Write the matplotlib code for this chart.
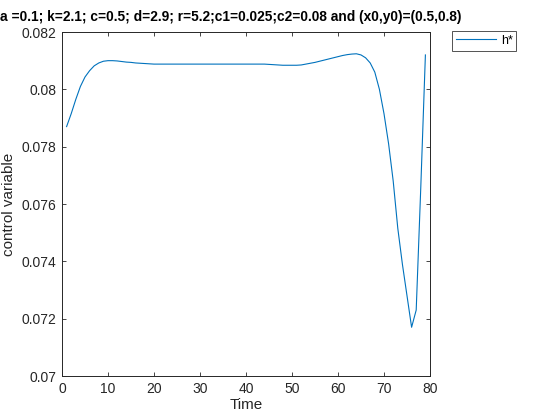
import numpy as np
import matplotlib
matplotlib.use("Agg")
import matplotlib.pyplot as plt

# ─── Data ─────────────────────────────────────────────────────────────────────
time = list(range(1, 80))
h_star = [
    0.07870, 0.07915, 0.07965, 0.08010, 0.08043, 0.08065, 0.08082, 0.08092,
    0.08098, 0.08100, 0.08100, 0.08099, 0.08097, 0.08095, 0.08094, 0.08092,
    0.08091, 0.08090, 0.08089, 0.08088, 0.08088, 0.08088, 0.08088, 0.08088,
    0.08088, 0.08088, 0.08088, 0.08088, 0.08088, 0.08088, 0.08088, 0.08088,
    0.08088, 0.08088, 0.08088, 0.08088, 0.08088, 0.08088, 0.08088, 0.08088,
    0.08088, 0.08088, 0.08088, 0.08088, 0.08087, 0.08086, 0.08085, 0.08084,
    0.08084, 0.08084, 0.08084, 0.08085, 0.08088, 0.08091, 0.08094, 0.08098,
    0.08102, 0.08106, 0.08110, 0.08114, 0.08118, 0.08121, 0.08123, 0.08124,
    0.08120, 0.08110, 0.08092, 0.08060, 0.08000, 0.07915, 0.07810, 0.07680,
    0.07515, 0.07390, 0.07280, 0.07170, 0.07230, 0.07660, 0.08120,
]

xticks = [0, 10, 20, 30, 40, 50, 60, 70, 80]
yticks = [0.07, 0.072, 0.074, 0.076, 0.078, 0.08, 0.082]
ytick_labels = ["0.07", "0.072", "0.074", "0.076", "0.078", "0.08", "0.082"]

title = "a =0.1; k=2.1; c=0.5; d=2.9; r=5.2;c1=0.025;c2=0.08 and (x0,y0)=(0.5,0.8)"

plt.rcParams["font.family"] = ["Liberation Sans", "DejaVu Sans"]

W, H = 560, 420
fig = plt.figure(figsize=(5.6, 4.2), dpi=100, facecolor="white")
ax = fig.add_axes([62 / W, 1 - 376 / H, (430 - 62) / W, (376 - 32) / H])

ax.plot(time, h_star, color="#0072BD", linewidth=0.8, label="h*")

ax.set_xlim(0, 80)
ax.set_ylim(0.07, 0.082)
ax.set_xticks(xticks)
ax.set_yticks(yticks)
ax.set_yticklabels(ytick_labels)
ax.tick_params(direction="in", top=True, right=True, length=3, width=0.6,
               labelsize=10, colors="#262626", pad=4)
for s in ax.spines.values():
    s.set_color("#262626")
    s.set_linewidth(0.7)

ax.set_xlabel("Time", fontsize=11, color="#262626", labelpad=2)
ax.set_ylabel("control variable", fontsize=11, color="#262626", labelpad=4)

# title runs up to the left edge of the figure, as in the reference
fig.text(0 / W, 1 - 21 / H, title, ha="left", va="baseline",
         fontsize=9.9, fontweight="bold", color="black")

leg = ax.legend(loc="upper left", bbox_to_anchor=(452 / W, 1 - 31 / H),
                bbox_transform=fig.transFigure, frameon=True, fancybox=False,
                fontsize=9, handlelength=3.2, borderpad=0.3, handletextpad=0.4,
                borderaxespad=0)
leg.get_frame().set_edgecolor("#262626")
leg.get_frame().set_linewidth(0.7)

fig.savefig("out.png", dpi=100, facecolor="white")
